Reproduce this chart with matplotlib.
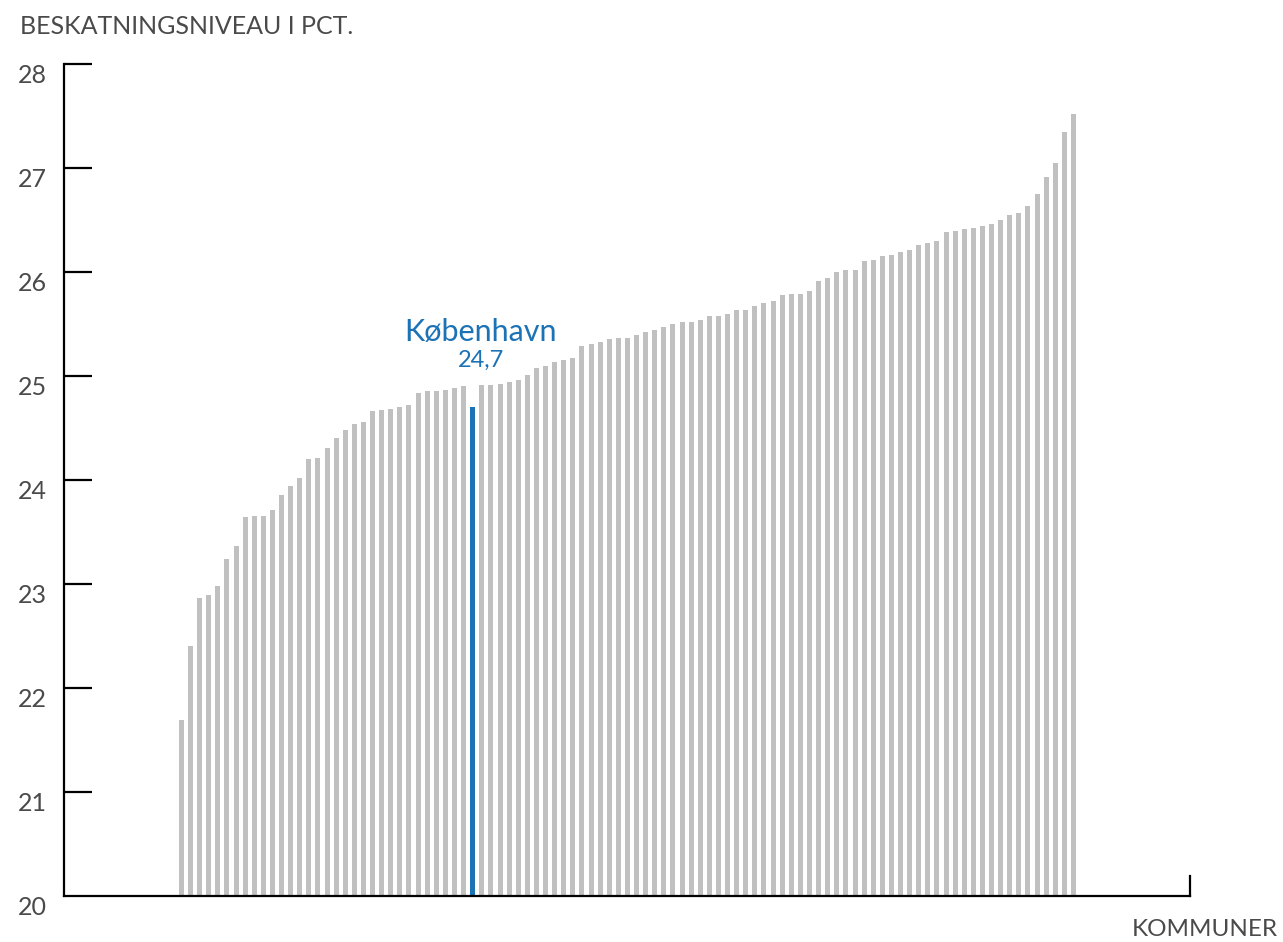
import matplotlib
matplotlib.use('Agg')
import matplotlib.pyplot as plt
import numpy as np

# beskatningsniveau pr. kommune, sorteret stigende
values_before = [21.69, 22.40, 22.87, 22.89, 22.98, 23.24, 23.37, 23.64, 23.65, 23.65,
                 23.71, 23.86, 23.94, 24.02, 24.20, 24.21, 24.31, 24.40, 24.48, 24.54,
                 24.56, 24.66, 24.67, 24.68, 24.70, 24.72, 24.84, 24.86, 24.86, 24.87,
                 24.88, 24.90]
kbh_label = 'København'
kbh_value = 24.7
values_after = [24.91, 24.91, 24.92, 24.94, 24.96, 25.01, 25.08, 25.10, 25.13, 25.15,
                25.17, 25.29, 25.31, 25.33, 25.36, 25.37, 25.37, 25.39, 25.42, 25.44,
                25.47, 25.50, 25.52, 25.52, 25.54, 25.58, 25.58, 25.60, 25.63, 25.63,
                25.67, 25.70, 25.72, 25.78, 25.79, 25.79, 25.82, 25.91, 25.94, 26.00,
                26.02, 26.02, 26.11, 26.12, 26.15, 26.16, 26.19, 26.21, 26.26, 26.28,
                26.30, 26.38, 26.39, 26.41, 26.42, 26.44, 26.46, 26.50, 26.55, 26.57,
                26.63, 26.75, 26.91, 27.05, 27.35, 27.52]
yticks = [20, 21, 22, 23, 24, 25, 26, 27, 28]

values = values_before + [kbh_value] + values_after
kbh_idx = len(values_before)
colors = ['#c0c0c0'] * len(values)
colors[kbh_idx] = '#1b72b5'

plt.rcParams['font.family'] = ['Lato', 'DejaVu Sans']
text_color = '#4a4a4a'

fig = plt.figure(figsize=(12.83, 9.42), dpi=100)
ax = fig.add_axes([64 / 1283, 1 - 896 / 942, (1190 - 64) / 1283, (896 - 64) / 942])

x = np.arange(len(values))
ax.bar(x, np.array(values) - 20, bottom=20, width=0.55, color=colors, linewidth=0)

ax.set_xlim(-12.9, 110.8)
ax.set_ylim(20, 28)

ax.spines['top'].set_visible(False)
ax.spines['right'].set_bounds(20, 20.19)
for side in ['left', 'bottom', 'right']:
    ax.spines[side].set_linewidth(1.6)
    ax.spines[side].set_color('black')

ax.set_xticks([])
ax.set_yticks(yticks[1:])
ax.tick_params(axis='y', direction='in', length=20, width=1.6, labelleft=False)

for v in yticks:
    ax.annotate(str(v), (0, v), xycoords=('axes fraction', 'data'),
                xytext=(-12, -8), textcoords='offset points',
                ha='right', va='center', fontsize=18, color=text_color)

fig.text(20 / 1283, 1 - 27 / 942, 'BESKATNINGSNIVEAU I PCT.', ha='left', va='center',
         fontsize=18, color=text_color)
fig.text(1278 / 1283, 1 - 930 / 942, 'KOMMUNER', ha='right', va='center',
         fontsize=17.5, color=text_color)

ax.text(kbh_idx + 0.9, 25.42, kbh_label, ha='center', va='center',
        fontsize=22, color=colors[kbh_idx])
ax.text(kbh_idx + 0.9, 25.15, f'{kbh_value:.1f}'.replace('.', ','), ha='center',
        va='center', fontsize=17, color=colors[kbh_idx])

fig.savefig('out.png', dpi=100)
